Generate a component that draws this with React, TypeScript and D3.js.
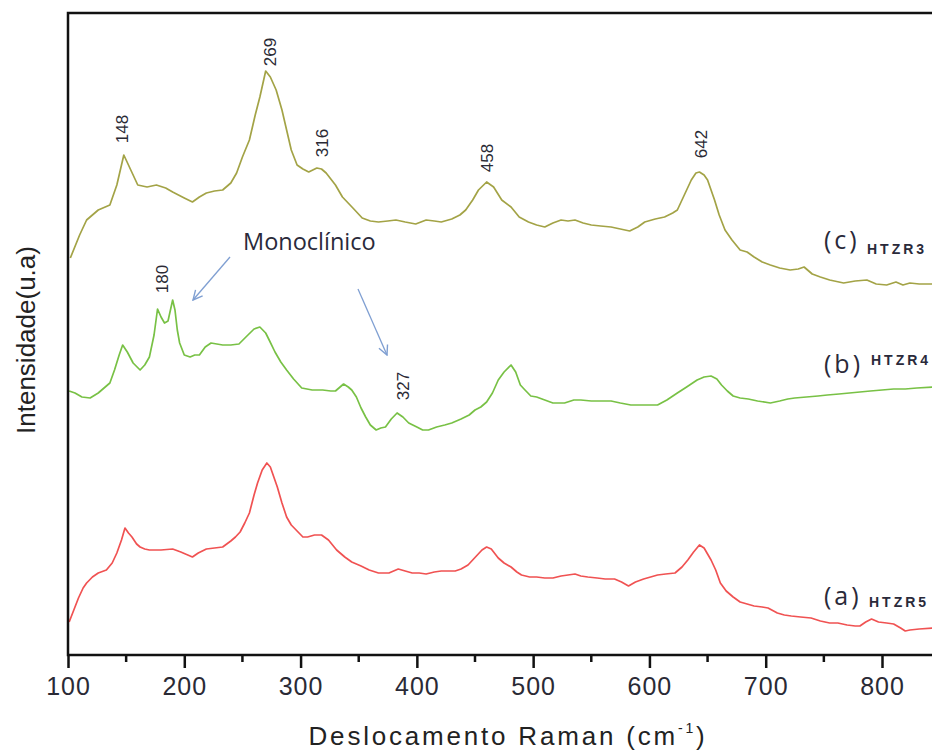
import React, { useEffect, useRef } from "react";
import { select, scaleLinear, line, axisBottom, range } from "d3";

// Raman shift (cm-1) / intensity (a.u.)
const htzr3 = [
  [102, 397], [110, 420], [116, 435], [126, 445], [136, 450], [142, 470], [148, 500], [154, 485],
  [160, 470], [168, 468], [176, 470], [184, 467], [190, 463], [200, 457], [207, 453], [213, 458],
  [219, 462], [226, 464], [233, 465], [240, 472], [245, 482], [250, 498], [256, 515], [261, 540],
  [265, 558], [270, 584], [274, 578], [279, 565], [284, 545], [288, 525], [292, 505], [297, 490],
  [302, 486], [307, 483], [314, 487], [318, 486], [322, 482], [330, 470], [336, 458], [345, 447],
  [353, 437], [360, 434], [367, 433], [375, 434], [382, 435], [390, 433], [399, 431], [408, 435],
  [415, 434], [421, 433], [430, 436], [437, 440], [442, 445], [448, 455], [453, 465], [460, 473],
  [466, 468], [473, 455], [481, 448], [488, 438], [496, 433], [503, 430], [510, 428], [517, 432],
  [524, 435], [530, 434], [536, 435], [543, 432], [550, 430], [558, 429], [567, 428], [575, 426],
  [583, 424], [590, 428], [596, 433], [605, 436], [613, 438], [620, 442], [624, 445], [630, 460],
  [636, 475], [640, 482], [643, 483], [647, 480], [650, 475], [653, 465], [656, 455], [660, 440],
  [665, 425], [671, 415], [678, 405], [684, 403], [690, 398], [697, 393], [704, 390], [712, 387],
  [721, 385], [728, 386], [733, 388], [740, 381], [747, 378], [755, 375], [767, 372], [777, 374],
  [787, 375], [795, 371], [804, 370], [812, 373], [818, 370], [824, 372], [832, 371], [845, 371],
];

const htzr4 = [
  [101, 264], [106, 262], [112, 258], [119, 257], [126, 262], [132, 268], [136, 272], [140, 285],
  [144, 300], [147, 310], [151, 303], [156, 292], [162, 285], [166, 290], [170, 298], [174, 320],
  [177, 346], [180, 338], [183, 332], [186, 334], [190, 355], [192, 345], [194, 325], [196, 312],
  [200, 300], [205, 298], [209, 300], [213, 300], [218, 308], [223, 312], [228, 311], [233, 310],
  [240, 310], [247, 311], [253, 318], [260, 326], [265, 328], [270, 322], [273, 315], [278, 303],
  [283, 293], [288, 285], [294, 276], [301, 267], [310, 265], [319, 265], [326, 264], [330, 264],
  [334, 268], [337, 271], [341, 268], [344, 265], [348, 258], [352, 247], [356, 238], [360, 230],
  [365, 225], [369, 227], [373, 228], [378, 236], [383, 242], [388, 238], [393, 232], [400, 228],
  [405, 225], [410, 225], [417, 228], [424, 230], [430, 232], [438, 236], [445, 240], [450, 245],
  [455, 248], [460, 253], [465, 262], [470, 275], [475, 283], [481, 290], [485, 283], [489, 270],
  [493, 265], [498, 259], [503, 258], [510, 255], [517, 252], [527, 252], [535, 255], [541, 255],
  [550, 254], [558, 254], [567, 254], [575, 252], [584, 250], [595, 250], [607, 250], [615, 255],
  [624, 262], [632, 268], [641, 275], [647, 278], [653, 279], [658, 276], [662, 270], [667, 264],
  [672, 259], [678, 257], [685, 256], [693, 254], [704, 252], [712, 254], [719, 256], [725, 257],
  [735, 258], [745, 259], [753, 260], [763, 261], [772, 262], [781, 263], [790, 264], [800, 265],
  [810, 266], [820, 266], [830, 267], [845, 268],
];

const htzr5 = [
  [101, 33], [105, 45], [109, 57], [113, 67], [116, 72], [121, 78], [126, 82], [133, 85],
  [138, 92], [142, 102], [146, 115], [149, 127], [152, 122], [155, 118], [159, 111], [162, 108],
  [166, 106], [170, 105], [180, 105], [190, 106], [197, 103], [203, 100], [207, 98], [212, 102],
  [219, 106], [226, 107], [233, 108], [240, 114], [244, 118], [248, 123], [252, 132], [256, 142],
  [260, 160], [263, 172], [267, 185], [271, 192], [274, 188], [277, 178], [280, 168], [284, 152],
  [288, 138], [292, 130], [297, 124], [302, 118], [306, 118], [312, 120], [318, 120], [324, 115],
  [331, 105], [338, 98], [344, 93], [352, 89], [359, 85], [367, 82], [376, 82], [384, 86],
  [390, 84], [396, 82], [402, 82], [408, 81], [415, 83], [421, 84], [427, 84], [433, 84],
  [438, 86], [444, 90], [448, 95], [452, 100], [456, 105], [460, 108], [464, 106], [470, 97],
  [475, 92], [481, 88], [486, 83], [490, 80], [497, 78], [503, 78], [510, 77], [517, 77],
  [524, 79], [530, 80], [536, 81], [541, 79], [547, 78], [555, 77], [562, 76], [570, 76],
  [576, 73], [582, 69], [588, 73], [595, 76], [601, 78], [607, 80], [614, 81], [622, 82],
  [628, 88], [633, 95], [638, 103], [643, 110], [647, 107], [650, 101], [653, 95], [657, 85],
  [661, 72], [666, 64], [672, 58], [678, 53], [684, 51], [690, 49], [697, 48], [702, 47],
  [710, 42], [716, 40], [722, 39], [730, 38], [739, 37], [747, 34], [755, 32], [762, 32],
  [770, 30], [777, 29], [781, 29], [786, 33], [791, 36], [797, 33], [804, 32], [810, 31],
  [816, 27], [820, 24], [824, 25], [832, 26], [845, 27],
];

const xTicks = [100, 200, 300, 400, 500, 600, 700, 800];

// peak labels: text, position (cm-1, a.u.)
const peakLabels = [
  { text: "148", x: 151.5, y: 526 },
  { text: "269", x: 279, y: 603 },
  { text: "316", x: 323.5, y: 512 },
  { text: "458", x: 465.5, y: 497 },
  { text: "642", x: 649.5, y: 511 },
  { text: "180", x: 186, y: 376 },
  { text: "327", x: 393.3, y: 269 },
];

const width = 932;
const height = 756;
const margin = { top: 13, left: 68, bottom: 101 };

function App() {
  const ref = useRef<HTMLDivElement>(null);

  useEffect(() => {
    const svg = select(ref.current)
      .append("svg")
      .attr("width", width)
      .attr("height", height)
      .style("position", "absolute")
      .style("left", 0)
      .style("top", 0)
      .style("background", "#fff");

    const x = scaleLinear().domain([100, 843]).range([margin.left, width]);
    const y = scaleLinear().domain([0, 642]).range([height - margin.bottom, margin.top]);
    const y0 = height - margin.bottom;

    const defs = svg.append("defs");
    defs
      .append("marker")
      .attr("id", "arr")
      .attr("viewBox", "0 0 10 10")
      .attr("refX", 9)
      .attr("refY", 5)
      .attr("markerWidth", 9)
      .attr("markerHeight", 9)
      .attr("orient", "auto")
      .append("path")
      .attr("d", "M1,1 L9,5 L1,9")
      .attr("fill", "none")
      .attr("stroke", "#7f9fd2")
      .attr("stroke-width", 1.2);

    const ln = line<number[]>()
      .x((d) => x(d[0]))
      .y((d) => y(d[1]));

    const series = [
      { data: htzr3, color: "#a3a346" },
      { data: htzr4, color: "#78c145" },
      { data: htzr5, color: "#f05252" },
    ];
    series.forEach((s) => {
      svg
        .append("path")
        .datum(s.data)
        .attr("d", ln)
        .attr("fill", "none")
        .attr("stroke", s.color)
        .attr("stroke-width", 1.7)
        .attr("stroke-linejoin", "round");
    });

    // frame
    svg
      .append("path")
      .attr("d", `M${width},${margin.top} H${margin.left} V${y0} H${width}`)
      .attr("fill", "none")
      .attr("stroke", "#111")
      .attr("stroke-width", 2.5);

    // x axis ticks
    const gx = svg.append("g").attr("transform", `translate(0,${y0})`);
    gx.call(axisBottom(x).tickValues(xTicks).tickSize(13).tickFormat((d) => `${d}`));
    gx.select(".domain").remove();
    gx.selectAll(".tick line").attr("stroke", "#111").attr("stroke-width", 2.5);
    gx.selectAll(".tick text")
      .attr("y", 22)
      .attr("dy", "0.71em")
      .attr("fill", "#2a2a35")
      .style("font-family", "'Liberation Sans', Arial, sans-serif")
      .style("font-size", "25px")
      .style("letter-spacing", "1px");
    gx.selectAll(".minor")
      .data(range(150, 843, 100))
      .join("line")
      .attr("x1", (d) => x(d))
      .attr("x2", (d) => x(d))
      .attr("y1", 0)
      .attr("y2", 7)
      .attr("stroke", "#111")
      .attr("stroke-width", 2.5);

    // axis titles
    const title = svg
      .append("text")
      .attr("x", 508)
      .attr("y", 745)
      .attr("text-anchor", "middle")
      .attr("fill", "#222")
      .style("font-family", "'Liberation Sans', Arial, sans-serif")
      .style("font-size", "26px")
      .style("letter-spacing", "2.8px");
    title.append("tspan").text("Deslocamento Raman (cm");
    title.append("tspan").attr("dy", -12).style("font-size", "14px").text("-1");
    title.append("tspan").attr("dy", 12).text(")");

    svg
      .append("text")
      .attr("transform", "translate(35,340) rotate(-90)")
      .attr("text-anchor", "middle")
      .attr("fill", "#222")
      .style("font-family", "'Liberation Sans', Arial, sans-serif")
      .style("font-size", "26px")
      .text("Intensidade(u.a)");

    // peak annotations
    svg
      .selectAll(".peak")
      .data(peakLabels)
      .join("text")
      .attr("transform", (d) => `translate(${x(d.x)},${y(d.y)}) rotate(-90)`)
      .attr("text-anchor", "middle")
      .attr("fill", "#2a2a35")
      .style("font-family", "'Liberation Sans', Arial, sans-serif")
      .style("font-size", "17px")
      .text((d) => d.text);

    svg
      .append("text")
      .attr("x", 243)
      .attr("y", 250)
      .attr("fill", "#2a2a3a")
      .style("font-family", "'Open Sans', 'Noto Sans', sans-serif")
      .style("font-size", "23.5px")
      .text("Monoclínico");

    const arrows = [
      [230, 257, 193, 300],
      [358, 289, 387, 355],
    ];
    svg
      .selectAll(".arrow")
      .data(arrows)
      .join("line")
      .attr("x1", (d) => d[0])
      .attr("y1", (d) => d[1])
      .attr("x2", (d) => d[2])
      .attr("y2", (d) => d[3])
      .attr("stroke", "#7f9fd2")
      .attr("stroke-width", 1.3)
      .attr("marker-end", "url(#arr)");

    // sample labels
    const tags = [
      { l: "(c)", s: "HTZR3", y: 249, sy: 254, sx: 867 },
      { l: "(b)", s: "HTZR4", y: 373, sy: 365, sx: 871 },
      { l: "(a)", s: "HTZR5", y: 605, sy: 607, sx: 869 },
    ];
    tags.forEach((t) => {
      svg
        .append("text")
        .attr("x", 824)
        .attr("y", t.y)
        .attr("fill", "#2a2a3a")
        .style("font-family", "'Open Sans', 'Noto Sans', sans-serif")
        .style("font-size", "25px")
        .style("letter-spacing", "3px")
        .text(t.l);
      svg
        .append("text")
        .attr("x", t.sx)
        .attr("y", t.sy)
        .attr("fill", "#2a2a3a")
        .style("font-family", "'Liberation Sans', Arial, sans-serif")
        .style("font-size", "14px")
        .style("font-weight", "bold")
        .style("letter-spacing", "3px")
        .text(t.s);
    });

    return () => {
      svg.remove();
    };
  }, []);

  return <div ref={ref}></div>;
}

export default App;
